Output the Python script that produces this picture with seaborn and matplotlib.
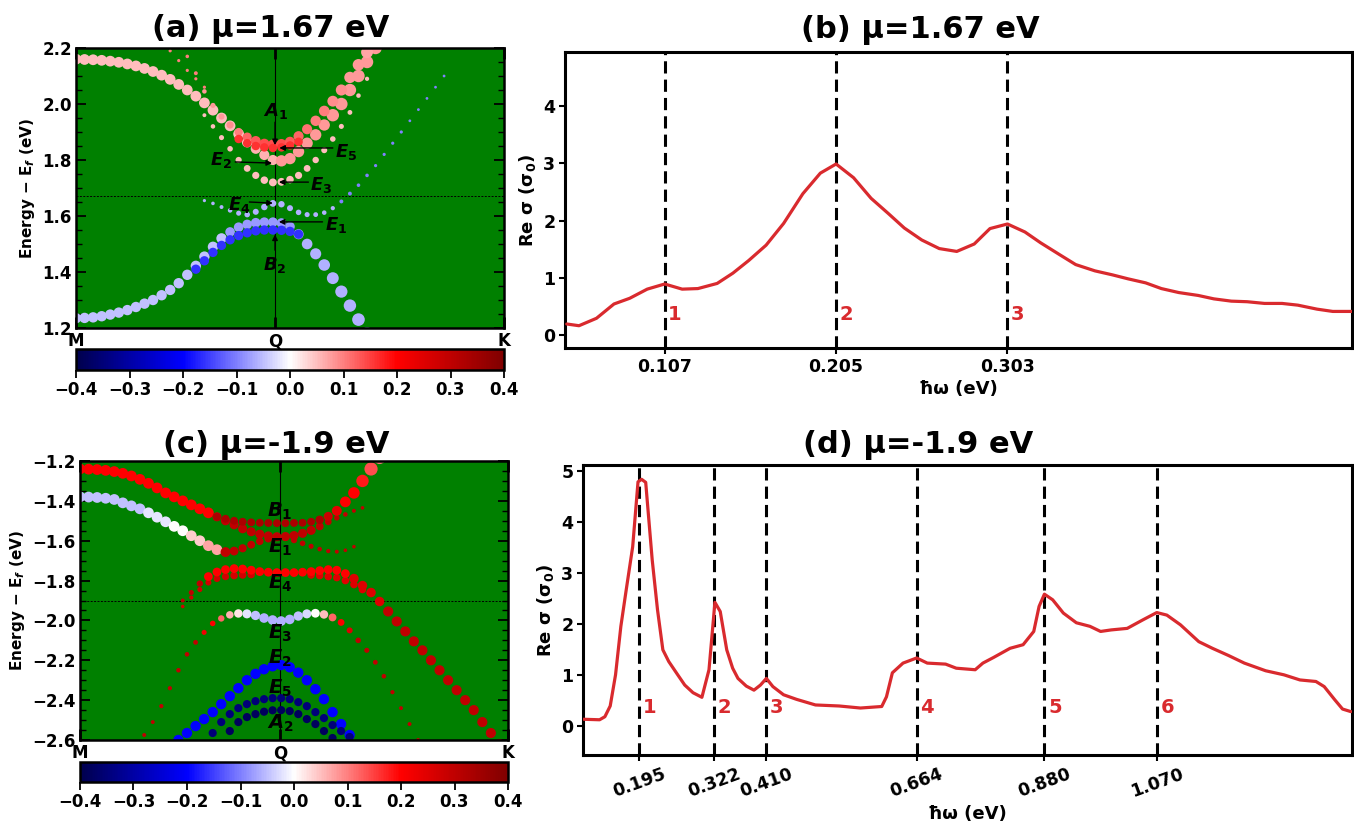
import numpy as np
import pandas as pd
import matplotlib
matplotlib.use("Agg")
import matplotlib.pyplot as plt
import seaborn as sns
from matplotlib.colors import Normalize
from matplotlib.cm import ScalarMappable
from matplotlib.ticker import MultipleLocator

sns.set_style("ticks")
plt.rcParams["font.family"] = ["DejaVu Sans"]
plt.rcParams.update({
    "font.weight": "bold",
    "axes.labelweight": "bold",
    "axes.titleweight": "bold",
    "text.color": "black",
    "axes.labelcolor": "black",
    "axes.edgecolor": "black",
    "xtick.color": "black",
    "ytick.color": "black",
    "mathtext.fontset": "custom",
    "mathtext.rm": "DejaVu Sans:bold",
    "mathtext.it": "DejaVu Sans:bold:italic",
    "mathtext.bf": "DejaVu Sans:bold",
})

# ---------------------------------------------------------------- data
K_STEP = 0.02                       # k-point spacing along the M-Q-K path
Q_A, Q_C = 0.465, 0.467             # position of Q on the path
MU_A, MU_C = 1.67, -1.9             # chemical potentials (eV)
CBAR_TICKS = [-0.4, -0.3, -0.2, -0.1, 0.0, 0.1, 0.2, 0.3, 0.4]

# bands for mu = 1.67 eV : (first k, energies, spin weight, projection weight)
A_PALE_E = [2.160, 2.159, 2.158, 2.156, 2.153, 2.149, 2.143, 2.136, 2.127, 2.116,
            2.103, 2.088, 2.070, 2.050, 2.028, 2.004, 1.978, 1.950, 1.922, 1.893,
            1.864, 1.840, 1.818, 1.800, 1.797, 1.805, 1.830, 1.860, 1.890, 1.925,
            1.960, 2.000, 2.050, 2.100, 2.150, 2.200]
A_PALE_W = [(0.05, 21), (0.06, 3), (0.08, 12)]
A_PALE_S = [(45, 21), (40, 3), (50, 6), (60, 6)]

A_RED_E = [2.170, 2.110, 2.045, 1.995, 1.955, 1.925, 1.900, 1.882, 1.868, 1.858,
           1.855, 1.857, 1.865, 1.885, 1.910, 1.940, 1.975, 2.010, 2.050, 2.095,
           2.140, 2.185, 2.230]
A_RED_W = [0.10, 0.10, 0.08, 0.08, 0.08, 0.09, 0.10, 0.12, 0.13, 0.14, 0.14, 0.14,
           0.13, 0.12, 0.11, 0.10, 0.10, 0.09, 0.09, 0.08, 0.08, 0.07, 0.07]
A_RED_S = [5, 6, 8, 10, 14, 20, 26, 32, 38, 40, 40, 40, 40, 40, 40, 42, 44, 46,
           48, 50, 52, 55, 58]

A_E5_E = [1.875, 1.860, 1.850, 1.845, 1.843, 1.845, 1.852, 1.865]

A_E3_E = [1.960, 1.920, 1.880, 1.840, 1.800, 1.770, 1.745, 1.728, 1.720, 1.722,
          1.730, 1.745, 1.770, 1.800, 1.835, 1.875, 1.920, 1.970, 2.030, 2.090]
A_E3_S = [6, 8, 10, 12, 15, 18, 20, 22, 24, 24, 22, 20, 18, 16, 14, 12, 10, 9, 8, 7]

A_SPARSE_E = [2.190, 2.155, 2.120, 2.090, 2.060]

A_E4_E = [1.655, 1.645, 1.632, 1.620, 1.610, 1.605, 1.615, 1.632, 1.645, 1.642,
          1.628, 1.613, 1.605, 1.605, 1.612, 1.628, 1.652, 1.680, 1.710, 1.745,
          1.780, 1.820, 1.860, 1.900, 1.940, 1.980, 2.020, 2.060, 2.100]
A_E4_W = [(-0.06, 16), (-0.10, 13)]
A_E4_S = [4, 5, 6, 8, 10, 12, 14, 16, 18, 16, 14, 12, 10, 9, 8, 7, 6, 6, 5, 5,
          4, 4, 4, 4, 3, 3, 3, 3, 3]

A_E1_E = [1.235, 1.236, 1.238, 1.242, 1.248, 1.255, 1.264, 1.275, 1.287, 1.300,
          1.317, 1.336, 1.360, 1.390, 1.422, 1.455, 1.490, 1.520, 1.543, 1.560,
          1.570, 1.576, 1.578, 1.578, 1.575, 1.562, 1.535, 1.500, 1.465, 1.425,
          1.378, 1.330, 1.280, 1.230, 1.180]
A_E1_W = [(-0.05, 18), (-0.08, 8), (-0.06, 9)]
A_E1_S = [(42, 18), (36, 8), 40, 44, 48, 52, 55, 58, 60, 62, 64]

A_B2_E = [1.410, 1.440, 1.470, 1.495, 1.515, 1.530, 1.540, 1.547, 1.550, 1.550,
          1.549, 1.545, 1.535]

# bands for mu = -1.9 eV
C_RED_E = [-1.240, -1.241, -1.243, -1.247, -1.253, -1.262, -1.275, -1.292, -1.312,
           -1.335, -1.360, -1.380, -1.400, -1.420, -1.440, -1.460, -1.480, -1.500,
           -1.520, -1.540, -1.555, -1.567, -1.576, -1.580, -1.579, -1.574, -1.563,
           -1.548, -1.528, -1.505, -1.485, -1.468, -1.450, -1.435]
C_RED_W = [(0.2, 16), (0.3, 18)]
C_RED_S = [(45, 16), (32, 12), 24, 18, 12, 8, 6, 5]

C_B1_E = [-1.480, -1.490, -1.500, -1.505, -1.508, -1.510, -1.511, -1.512, -1.512,
          -1.511, -1.510, -1.505, -1.495, -1.478, -1.450, -1.405, -1.360, -1.300,
          -1.240, -1.180]
C_B1_W = [(0.33, 13), 0.28, 0.24, 0.20, 0.20, 0.18, 0.14, 0.10]
C_B1_S = [(24, 12), 28, 32, 38, 45, 52, 60, 68, 75]

C_WHITE_E = [-1.380, -1.381, -1.383, -1.387, -1.393, -1.410, -1.425, -1.440, -1.460,
             -1.482, -1.505, -1.528, -1.550, -1.575, -1.600, -1.625, -1.645, -1.657,
             -1.652, -1.638, -1.620, -1.603, -1.590, -1.582, -1.585, -1.597, -1.613,
             -1.628, -1.642, -1.652, -1.655, -1.648, -1.630]
C_WHITE_W = [(-0.05, 8), (-0.02, 3), (0.0, 2), (0.04, 2), (0.07, 2), (0.3, 16)]
C_WHITE_S = [(45, 17), 38, 30, 26, 24, 22, 22, 22, 18, 15, 12, 10, 8, 7, 6, 5, 5]

C_E4A_E = [-1.900, -1.860, -1.815, -1.780, -1.757, -1.745, -1.740, -1.742, -1.748,
           -1.755, -1.758, -1.760, -1.760, -1.760, -1.758, -1.755, -1.750, -1.745,
           -1.748, -1.765, -1.790, -1.825, -1.860, -1.905, -1.955, -2.005, -2.055,
           -2.105, -2.150, -2.200, -2.250, -2.300, -2.350, -2.400, -2.450, -2.510,
           -2.565, -2.620]
C_E4A_W = [(0.3, 3), (0.2, 17), (0.25, 4), (0.3, 14)]
C_E4A_S = [6, 10, 16, (30, 17), (35, 4), (40, 14)]

C_E4B_E = [-1.930, -1.885, -1.845, -1.810, -1.790, -1.780, -1.775, -1.772, -1.770]
C_E4B_S = [5, 7, 10, 14, 18, 20, 22, 22, 22]
C_E4C_E = [-1.772, -1.775, -1.780, -1.785, -1.800, -1.820, -1.845]

C_E3_E = [-2.575, -2.510, -2.430, -2.340, -2.250, -2.170, -2.110, -2.060, -2.015,
          -1.990, -1.972, -1.965, -1.967, -1.975, -1.988, -1.998, -2.003, -1.995,
          -1.978, -1.967, -1.964, -1.970, -1.985, -2.010, -2.050, -2.100, -2.150,
          -2.210, -2.280, -2.360, -2.440, -2.520, -2.600]
C_E3_W = [(0.3, 7), 0.22, 0.20, 0.12, 0.06, 0.02, -0.02, -0.05, -0.06, -0.06,
          -0.06, -0.06, -0.05, -0.03, 0.0, 0.05, 0.12, 0.20, 0.25, (0.3, 8)]
C_E3_S = [6, 6, 7, 7, 8, 8, 9, 10, 12, 16, 22, 28, 32, 34, 36, 36, 36, 36, 34, 32,
          30, 28, 24, 18, 14, 12, 10, 9, 8, 7, 6, 6, 6]

C_E2_E = [-2.600, -2.565, -2.530, -2.495, -2.460, -2.420, -2.380, -2.340, -2.300,
          -2.268, -2.245, -2.230, -2.224, -2.235, -2.262, -2.300, -2.345, -2.395,
          -2.460, -2.520, -2.575, -2.630]
C_E5_E = [-2.620, -2.565, -2.510, -2.470, -2.440, -2.420, -2.405, -2.395, -2.390,
          -2.390, -2.395, -2.410, -2.430, -2.460, -2.490, -2.525, -2.555, -2.585]
C_A2_E = [-2.620, -2.555, -2.510, -2.485, -2.470, -2.458, -2.451, -2.450, -2.455,
          -2.470, -2.495, -2.520, -2.555, -2.590]

BANDS_A = [
    (0.00, A_PALE_E, A_PALE_W, A_PALE_S),
    (0.30, A_E3_E, 0.05, A_E3_S),
    (0.26, A_RED_E, A_RED_W, A_RED_S),
    (0.38, A_E5_E, 0.16, 28),
    (0.22, A_SPARSE_E, 0.10, 4),
    (0.00, A_E1_E, A_E1_W, A_E1_S),
    (0.28, A_B2_E, -0.16, 34),
    (0.30, A_E4_E, A_E4_W, A_E4_S),
]
BANDS_C = [
    (0.00, C_WHITE_E, C_WHITE_W, C_WHITE_S),
    (0.00, C_RED_E, C_RED_W, C_RED_S),
    (0.32, C_B1_E, C_B1_W, C_B1_S),
    (0.24, C_E4B_E, 0.27, C_E4B_S),
    (0.54, C_E4C_E, 0.25, 22),
    (0.24, C_E4A_E, C_E4A_W, C_E4A_S),
    (0.15, C_E3_E, C_E3_W, C_E3_S),
    (0.23, C_E2_E, -0.20, 42),
    (0.29, C_E5_E, -0.35, 26),
    (0.33, C_A2_E, -0.38, 26),
]

# band-edge labels: (text, k, E, arrow tail, arrow head)
LABELS_A = [
    ("$A_1$", 0.465, 1.975, (0.465, 1.935), (0.465, 1.853)),
    ("$E_5$", 0.630, 1.830, (0.600, 1.843), (0.475, 1.843)),
    ("$E_2$", 0.338, 1.800, (0.372, 1.793), (0.458, 1.789)),
    ("$E_3$", 0.572, 1.710, (0.543, 1.721), (0.474, 1.721)),
    ("$E_4$", 0.382, 1.640, (0.405, 1.650), (0.460, 1.646)),
    ("$E_1$", 0.607, 1.568, (0.576, 1.579), (0.474, 1.579)),
    ("$B_2$", 0.465, 1.425, (0.465, 1.478), (0.465, 1.534)),
]
LABELS_C = [("$B_1$", -1.451), ("$E_1$", -1.632), ("$E_4$", -1.812),
            ("$E_3$", -2.063), ("$E_2$", -2.189), ("$E_5$", -2.339),
            ("$A_2$", -2.515)]

# optical conductivity spectra
B_OMEGA = [0.051, 0.058, 0.068, 0.078, 0.087, 0.097, 0.107, 0.117, 0.126, 0.137,
           0.146, 0.155, 0.165, 0.175, 0.186, 0.196, 0.205, 0.215, 0.225, 0.235,
           0.244, 0.254, 0.264, 0.274, 0.284, 0.293, 0.303, 0.313, 0.322, 0.333,
           0.342, 0.353, 0.363, 0.372, 0.382, 0.391, 0.401, 0.412, 0.421, 0.431,
           0.440, 0.450, 0.460, 0.469, 0.480, 0.489, 0.501]
B_SIGMA = [0.19, 0.16, 0.29, 0.54, 0.64, 0.80, 0.89, 0.80, 0.81, 0.90,
           1.08, 1.30, 1.57, 1.95, 2.47, 2.83, 2.99, 2.75, 2.39, 2.12,
           1.87, 1.66, 1.51, 1.46, 1.59, 1.86, 1.94, 1.80, 1.61, 1.40,
           1.23, 1.12, 1.05, 0.98, 0.91, 0.81, 0.74, 0.69, 0.63, 0.59,
           0.58, 0.55, 0.55, 0.52, 0.45, 0.41, 0.41]
B_PEAKS = [0.107, 0.205, 0.303]

D_OMEGA = [0.101, 0.128, 0.137, 0.146, 0.155, 0.164, 0.173, 0.184, 0.193, 0.199,
           0.206, 0.217, 0.226, 0.235, 0.245, 0.259, 0.272, 0.286, 0.301, 0.313,
           0.323, 0.332, 0.343, 0.353, 0.362, 0.376, 0.389, 0.400, 0.410, 0.421,
           0.439, 0.461, 0.493, 0.533, 0.569, 0.605, 0.613, 0.623, 0.641, 0.664,
           0.682, 0.713, 0.731, 0.763, 0.776, 0.794, 0.822, 0.844, 0.862, 0.871,
           0.880, 0.894, 0.912, 0.934, 0.957, 0.975, 0.993, 1.020, 1.047, 1.070,
           1.087, 1.110, 1.141, 1.164, 1.191, 1.218, 1.254, 1.285, 1.312, 1.339,
           1.353, 1.371, 1.384, 1.398]
D_SIGMA = [0.13, 0.12, 0.18, 0.39, 1.00, 1.95, 2.66, 3.51, 4.78, 4.83,
           4.77, 3.25, 2.27, 1.49, 1.26, 1.02, 0.80, 0.65, 0.56, 1.10,
           2.42, 2.24, 1.49, 1.13, 0.93, 0.78, 0.70, 0.80, 0.93, 0.77,
           0.61, 0.52, 0.41, 0.39, 0.35, 0.38, 0.57, 1.04, 1.23, 1.33,
           1.23, 1.21, 1.13, 1.10, 1.23, 1.34, 1.52, 1.59, 1.85, 2.34,
           2.58, 2.47, 2.21, 2.02, 1.95, 1.85, 1.88, 1.91, 2.08, 2.22,
           2.17, 1.98, 1.65, 1.52, 1.38, 1.23, 1.08, 1.00, 0.90, 0.87,
           0.77, 0.51, 0.33, 0.28]
D_PEAKS = [0.195, 0.322, 0.410, 0.664, 0.880, 1.070]

RED = "#d92a2e"
S_NORM = (3, 75)        # range of projection weights
S_AREA = (4, 100)       # marker areas (pt^2) they map onto


# ---------------------------------------------------------------- helpers
def expand(spec, n):
    """Turn a scalar or a list of values / (value, count) runs into n values."""
    if np.isscalar(spec):
        return [float(spec)] * n
    out = []
    for item in spec:
        if isinstance(item, tuple):
            out += [float(item[0])] * item[1]
        else:
            out.append(float(item))
    out = out[:n]
    out += [out[-1]] * (n - len(out))
    return out


def band_frame(bands):
    parts = []
    for k0, energies, w, s in bands:
        n = len(energies)
        parts.append(pd.DataFrame({
            "k": k0 + K_STEP * np.arange(n),
            "E": energies,
            "w": expand(w, n),
            "s": expand(s, n),
        }))
    return pd.concat(parts, ignore_index=True)


W, H = 1354, 824


def rect(l, t, r, b):
    return [l / W, 1 - b / H, (r - l) / W, (b - t) / H]


def band_panel(ax, cax, bands, ylim, kq, mu):
    df = band_frame(bands)
    ax.set_facecolor("green")
    ax.axhline(mu, color="k", ls=(0, (2, 1.5)), lw=0.7, zorder=1)
    ax.axvline(kq, color="k", lw=0.8, zorder=1)
    sns.scatterplot(data=df, x="k", y="E", hue="w", size="s",
                    palette="seismic", hue_norm=(-0.4, 0.4),
                    sizes=S_AREA, size_norm=S_NORM,
                    linewidth=0, legend=False, ax=ax, zorder=2)
    ax.set_xlim(0, 1)
    ax.set_ylim(*ylim)
    ax.set_xticks([0, kq, 1], ["M", "Q", "K"])
    ax.set_xlabel("")
    ax.set_ylabel("Energy − E$_f$ (eV)", fontsize=11, labelpad=4)
    ax.tick_params(axis="x", direction="in", length=8, width=2, top=True,
                   pad=3, labelsize=12)
    ax.yaxis.set_major_locator(MultipleLocator(0.2))
    ax.yaxis.set_minor_locator(MultipleLocator(0.05))
    ax.tick_params(axis="y", which="major", direction="in", length=7,
                   width=1.3, right=True, labelsize=12, pad=3)
    ax.tick_params(axis="y", which="minor", direction="in", length=4,
                   width=1.0, right=True)
    for sp in ax.spines.values():
        sp.set_linewidth(1.8)

    sm = ScalarMappable(norm=Normalize(-0.4, 0.4), cmap="seismic")
    cb = fig.colorbar(sm, cax=cax, orientation="horizontal", ticks=CBAR_TICKS)
    cb.outline.set_linewidth(1.8)
    cax.tick_params(direction="out", length=6, width=1.3, labelsize=12, pad=2)


def spectrum_panel(ax, omega, sigma, peaks, xlim, ylim, yticks, rot, dx):
    for i, p in enumerate(peaks):
        ax.axvline(p, color="k", ls=(0, (4, 2)), lw=2.2, zorder=1)
        ax.text(p + dx, 0.36, str(i + 1), color=RED, fontsize=14,
                ha="left", va="center")
    sns.lineplot(x=omega, y=sigma, ax=ax, color=RED, lw=2.3, sort=False,
                 estimator=None, zorder=3)
    ax.set_xlim(*xlim)
    ax.set_ylim(*ylim)
    ax.set_xticks(peaks, [f"{p:.3f}" for p in peaks], rotation=rot,
                  ha="center")
    ax.set_yticks(yticks)
    ax.set_xlabel("ħω (eV)", fontsize=13, labelpad=3)
    ax.set_ylabel("Re σ (σ$_0$)", fontsize=13, labelpad=4)
    ax.tick_params(direction="out", length=4, width=1.5, labelsize=12.5, pad=3)
    for sp in ax.spines.values():
        sp.set_linewidth(2.2)


# ---------------------------------------------------------------- figure
fig = plt.figure(figsize=(W / 100, H / 100), dpi=100)
ax_a = fig.add_axes(rect(76, 48, 504, 328))
cax_a = fig.add_axes(rect(76, 349, 504, 370))
ax_b = fig.add_axes(rect(565, 52, 1352, 348))
ax_c = fig.add_axes(rect(80, 461, 508, 740))
cax_c = fig.add_axes(rect(80, 762, 508, 782))
ax_d = fig.add_axes(rect(583, 465, 1352, 755))

band_panel(ax_a, cax_a, BANDS_A, (1.2, 2.2), Q_A, MU_A)
band_panel(ax_c, cax_c, BANDS_C, (-2.6, -1.2), Q_C, MU_C)

for text, kx, e, tail, head in LABELS_A:
    ax_a.text(kx, e, text, fontsize=13, ha="center", va="center", zorder=5)
    ax_a.annotate("", xy=head, xytext=tail, zorder=5,
                  arrowprops=dict(arrowstyle="-|>", color="k", lw=1.0,
                                  mutation_scale=8, shrinkA=0, shrinkB=0))
for text, e in LABELS_C:
    ax_c.text(Q_C, e, text, fontsize=14, ha="center", va="center", zorder=5)

spectrum_panel(ax_b, B_OMEGA, B_SIGMA, B_PEAKS, (0.05, 0.50), (-0.23, 4.95),
               [0, 1, 2, 3, 4], 0, 0.002)
spectrum_panel(ax_d, D_OMEGA, D_SIGMA, D_PEAKS, (0.10, 1.40), (-0.57, 5.11),
               [0, 1, 2, 3, 4, 5], 20, 0.006)

ax_a.set_title("(a) μ=1.67 eV", fontsize=22, x=0.456, pad=8)
ax_b.set_title("(b) μ=1.67 eV", fontsize=22, x=0.452, pad=10)
ax_c.set_title("(c) μ=-1.9 eV", fontsize=22, x=0.458, pad=6)
ax_d.set_title("(d) μ=-1.9 eV", fontsize=22, x=0.436, pad=9)

fig.savefig("out.png", dpi=100)
